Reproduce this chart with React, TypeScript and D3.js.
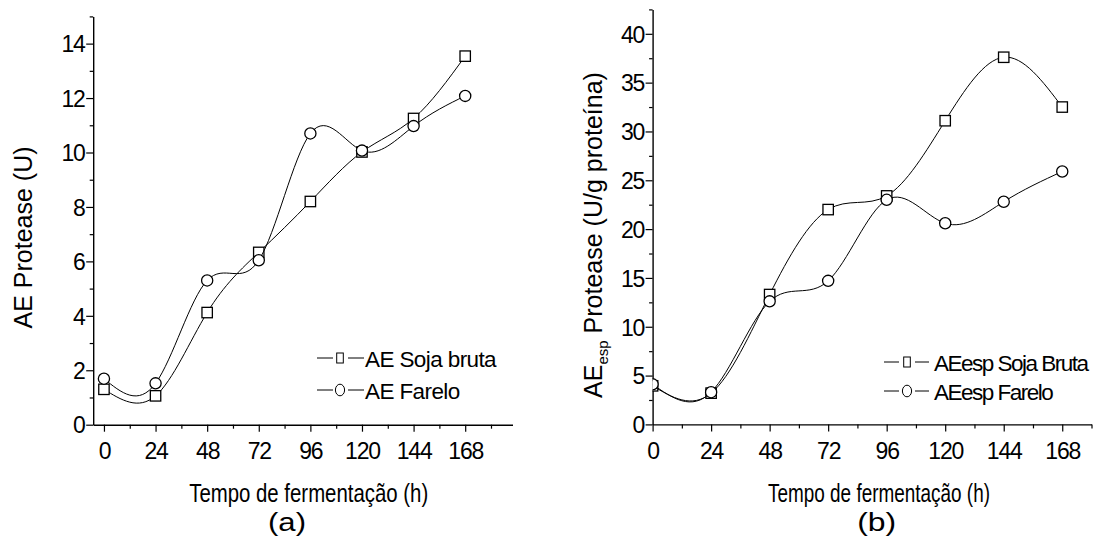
import React, { useEffect, useRef } from 'react';
import * as d3 from 'd3';

// Tempo de fermentação (h)
const hours = [0, 24, 48, 72, 96, 120, 144, 168];

// (a) AE Protease (U)
const aeSojaBruta = [1.3, 1.06, 4.12, 6.33, 8.2, 10.02, 11.25, 13.54];
const aeFarelo = [1.69, 1.52, 5.3, 6.04, 10.7, 10.07, 10.97, 12.08];

// (b) AEesp Protease (U/g proteína)
const aeEspSojaBruta = [3.95, 3.2, 13.3, 22.0, 23.4, 31.1, 37.6, 32.5];
const aeEspFarelo = [4.1, 3.3, 12.6, 14.7, 23.0, 20.6, 22.8, 25.9];

const yTicksA = [0, 2, 4, 6, 8, 10, 12, 14];
const yTicksB = [0, 5, 10, 15, 20, 25, 30, 35, 40];

const FONT = '"Liberation Sans", Arial, Helvetica, sans-serif';

type Series = { name: string; values: number[]; marker: 'square' | 'circle' };

type Panel = {
  id: string;
  xDomain: [number, number];
  xRange: [number, number];
  yDomain: [number, number];
  yRange: [number, number];
  yTicks: number[];
  yMinorStep: number;
  series: Series[];
  legend: { segA: [number, number]; mark: number; segB: [number, number]; textX: number; rows: number[]; spacing: number };
  xTitle: { x: number; len: number };
  tag: { text: string; x: number; len: number };
};

const App = () => {
  const svgRef = useRef<SVGSVGElement>(null);

  useEffect(() => {
    const svg = d3.select(svgRef.current);
    svg.selectAll('*').remove();

    const panels: Panel[] = [
      {
        id: 'a',
        xDomain: [-5, 190],
        xRange: [93.2, 512.5],
        yDomain: [0, 15],
        yRange: [424.7, 16.4],
        yTicks: yTicksA,
        yMinorStep: 1,
        series: [
          { name: 'AE Soja bruta', values: aeSojaBruta, marker: 'square' },
          { name: 'AE Farelo', values: aeFarelo, marker: 'circle' },
        ],
        legend: { segA: [317, 333], mark: 340, segB: [348, 364], textX: 365, rows: [358, 390], spacing: -0.6 },
        xTitle: { x: 308.7, len: 239 },
        tag: { text: '(a)', x: 287, len: 38 },
      },
      {
        id: 'b',
        xDomain: [0, 180],
        xRange: [652.6, 1091.5],
        yDomain: [0, 42.5],
        yRange: [424.4, 9.4],
        yTicks: yTicksB,
        yMinorStep: 2.5,
        series: [
          { name: 'AEesp Soja Bruta', values: aeEspSojaBruta, marker: 'square' },
          { name: 'AEesp Farelo', values: aeEspFarelo, marker: 'circle' },
        ],
        legend: { segA: [884, 899], mark: 907, segB: [915, 929], textX: 934, rows: [362, 391], spacing: -1.5 },
        xTitle: { x: 879, len: 222 },
        tag: { text: '(b)', x: 876.7, len: 39 },
      },
    ];

    panels.forEach((p) => {
      const x = d3.scaleLinear().domain(p.xDomain).range(p.xRange);
      const y = d3.scaleLinear().domain(p.yDomain).range(p.yRange);
      const g = svg.append('g');

      // minor ticks
      const xMinor = d3.range(12, p.xDomain[1] + 0.1, 24);
      const yMinor = d3.range(p.yMinorStep, p.yDomain[1] + 0.01, p.yMinorStep * 2);

      g.append('g')
        .attr('transform', `translate(0,${p.yRange[0]})`)
        .call(d3.axisBottom(x).tickValues(xMinor).tickSize(4).tickSizeOuter(0).tickFormat(() => ''))
        .call((a) => a.select('.domain').remove());
      g.append('g')
        .attr('transform', `translate(${p.xRange[0]},0)`)
        .call(d3.axisLeft(y).tickValues(yMinor).tickSize(3.5).tickSizeOuter(0).tickFormat(() => ''))
        .call((a) => a.select('.domain').remove());

      const xAxis = g.append('g')
        .attr('transform', `translate(0,${p.yRange[0]})`)
        .call(d3.axisBottom(x).tickValues(hours).tickSize(7).tickSizeOuter(0).tickPadding(11).tickFormat(d3.format('d')));
      const yAxis = g.append('g')
        .attr('transform', `translate(${p.xRange[0]},0)`)
        .call(d3.axisLeft(y).tickValues(p.yTicks).tickSize(7).tickSizeOuter(0).tickPadding(1.5).tickFormat(d3.format('d')));

      [xAxis, yAxis].forEach((a) => {
        a.selectAll('.domain').attr('stroke', '#000').attr('stroke-width', 1.4);
        a.selectAll('text')
          .attr('fill', '#000')
          .style('font-family', FONT)
          .style('font-size', '23px')
          .style('letter-spacing', '-1.2px');
      });
      yAxis.selectAll('text').attr('dy', '0.36em');
      g.selectAll('.tick line').attr('stroke', '#000').attr('stroke-width', 1.2);

      // data
      const clipId = `clip-${p.id}`;
      svg.append('defs').append('clipPath').attr('id', clipId)
        .append('rect')
        .attr('x', p.xRange[0])
        .attr('y', p.yRange[1])
        .attr('width', p.xRange[1] - p.xRange[0])
        .attr('height', p.yRange[0] - p.yRange[1]);
      const plot = g.append('g').attr('clip-path', `url(#${clipId})`);

      const line = d3.line<number>()
        .x((_, i) => x(hours[i]))
        .y((d) => y(d))
        .curve(d3.curveNatural);

      p.series.forEach((s) => {
        plot.append('path')
          .attr('d', line(s.values))
          .attr('fill', 'none')
          .attr('stroke', '#000')
          .attr('stroke-width', 1);
        const m = plot.selectAll(null).data(s.values).enter();
        if (s.marker === 'square') {
          m.append('rect')
            .attr('x', (_, i) => x(hours[i]) - 5.2)
            .attr('y', (d) => y(d) - 5.2)
            .attr('width', 10.4)
            .attr('height', 10.4)
            .attr('fill', '#fff')
            .attr('stroke', '#000')
            .attr('stroke-width', 1.3);
        } else {
          m.append('circle')
            .attr('cx', (_, i) => x(hours[i]))
            .attr('cy', (d) => y(d))
            .attr('r', 5.6)
            .attr('fill', '#fff')
            .attr('stroke', '#000')
            .attr('stroke-width', 1.3);
        }
      });

      // legend
      const L = p.legend;
      p.series.forEach((s, i) => {
        const ly = L.rows[i];
        const row = g.append('g');
        [L.segA, L.segB].forEach((seg) => {
          row.append('line')
            .attr('x1', seg[0]).attr('x2', seg[1])
            .attr('y1', ly).attr('y2', ly)
            .attr('stroke', '#000').attr('stroke-width', 1);
        });
        if (s.marker === 'square') {
          row.append('rect')
            .attr('x', L.mark - 3.3).attr('y', ly - 5)
            .attr('width', 6.6).attr('height', 10)
            .attr('fill', '#fff').attr('stroke', '#000').attr('stroke-width', 1);
        } else {
          row.append('ellipse')
            .attr('cx', L.mark).attr('cy', ly)
            .attr('rx', 4.6).attr('ry', 5.8)
            .attr('fill', '#fff').attr('stroke', '#000').attr('stroke-width', 1);
        }
        row.append('text')
          .attr('x', L.textX)
          .attr('y', ly + 8.5)
          .style('font-family', FONT)
          .style('font-size', '22.5px')
          .style('letter-spacing', `${L.spacing}px`)
          .text(s.name);
      });

      // axis titles
      g.append('text')
        .attr('x', p.xTitle.x)
        .attr('y', 501.5)
        .attr('text-anchor', 'middle')
        .attr('textLength', p.xTitle.len)
        .attr('lengthAdjust', 'spacingAndGlyphs')
        .style('font-family', FONT)
        .style('font-size', '25px')
        .text('Tempo de fermentação (h)');

      g.append('text')
        .attr('x', p.tag.x)
        .attr('y', 531)
        .attr('text-anchor', 'middle')
        .attr('textLength', p.tag.len)
        .attr('lengthAdjust', 'spacingAndGlyphs')
        .style('font-family', FONT)
        .style('font-size', '26px')
        .text(p.tag.text);
    });

    // y titles
    svg.append('text')
      .attr('transform', 'translate(32,237.5) rotate(-90)')
      .attr('text-anchor', 'middle')
      .style('font-family', FONT)
      .style('font-size', '25px')
      .text('AE Protease (U)');

    const yb = svg.append('text')
      .attr('transform', 'translate(602,235) rotate(-90)')
      .attr('text-anchor', 'middle')
      .style('font-family', FONT)
      .style('font-size', '25px');
    yb.append('tspan').text('AE');
    yb.append('tspan').attr('dy', 6).style('font-size', '15px').text('esp');
    yb.append('tspan').attr('dy', -6).text(' Protease (U/g proteína)');
  }, []);

  return (
    <svg
      ref={svgRef}
      width={1097}
      height={545}
      style={{ position: 'absolute', left: 0, top: 0, background: '#fff' }}
    />
  );
};

export default App;
